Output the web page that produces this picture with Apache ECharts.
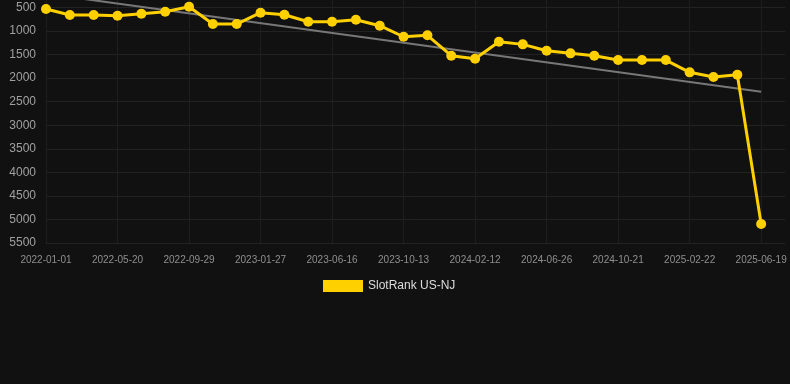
<!DOCTYPE html>
<html>
<head>
<meta charset="utf-8">
<script src="https://cdn.jsdelivr.net/npm/echarts@6/dist/echarts.min.js"></script>
<style>
html,body{margin:0;padding:0;background:#111111;overflow:hidden;width:790px;height:384px;position:relative;}
#chart{position:absolute;left:0;top:-16px;width:790px;height:400px;}
</style>
</head>
<body>
<div id="chart"></div>
<script>
var categories = ['2022-01-01','2022-02-16','2022-04-04','2022-05-20','2022-07-03','2022-08-16','2022-09-29','2022-11-08','2022-12-18','2023-01-27','2023-03-14','2023-05-01','2023-06-16','2023-07-26','2023-09-03','2023-10-13','2023-11-23','2024-01-02','2024-02-12','2024-03-27','2024-05-11','2024-06-26','2024-08-04','2024-09-12','2024-10-21','2024-12-01','2025-01-11','2025-02-22','2025-04-01','2025-05-10','2025-06-19',''];
var rankValues = [532,659,659,674,631,589,483,850,850,610,653,801,801,759,886,1120,1090,1523,1587,1226,1282,1417,1473,1523,1615,1615,1615,1876,1976,1927,5097];
var trendStart = 207;
var trendEnd = 2288;
var yTicks = [0,500,1000,1500,2000,2500,3000,3500,4000,4500,5000,5500];
var seriesName = 'SlotRank US-NJ';

var chart = echarts.init(document.getElementById('chart'), null, {renderer:'canvas', width: 790, height: 400});
var lastIdx = rankValues.length - 1;
chart.setOption({
  backgroundColor: '#111111',
  animation: false,
  grid: {left: 46, right: 5, top: 0, bottom: 141, containLabel: false, outerBoundsMode: 'none'},
  legend: {
    data: [seriesName],
    left: 318, top: 291,
    icon: 'rect', itemWidth: 40, itemHeight: 12, itemGap: 10,
    textStyle: {color: '#dddddd', fontSize: 12, fontFamily: 'Liberation Sans, Arial, sans-serif'}
  },
  xAxis: {
    type: 'category',
    data: categories,
    boundaryGap: false,
    axisLine: {show: true, lineStyle: {color: '#2a2a2a'}},
    axisTick: {show: true, interval: 2, length: 5, lineStyle: {color: '#2a2a2a'}},
    axisLabel: {interval: 2, color: '#8f8f8f', fontSize: 10, margin: 12, fontFamily: 'Liberation Sans, Arial, sans-serif'},
    splitLine: {show: true, interval: 2, lineStyle: {color: '#1e1e1e', width: 1}}
  },
  yAxis: {
    type: 'value',
    inverse: true,
    min: yTicks[0], max: yTicks[yTicks.length-1], interval: 500,
    axisLine: {show: false},
    axisTick: {show: false},
    axisLabel: {color: '#a0a0a0', fontSize: 12, margin: 10, fontFamily: 'Liberation Sans, Arial, sans-serif',
      formatter: function (v) { return String(v); }},
    splitLine: {show: true, lineStyle: {color: '#222222', width: 1}}
  },
  series: [
    {
      name: 'trend',
      type: 'line',
      data: [[0, trendStart], [lastIdx, trendEnd]],
      symbol: 'none',
      lineStyle: {color: '#777777', width: 2},
      silent: true,
      z: 1
    },
    {
      name: seriesName,
      type: 'line',
      data: rankValues,
      symbol: 'circle',
      symbolSize: 10,
      itemStyle: {color: '#ffd000'},
      lineStyle: {color: '#ffd000', width: 3},
      z: 3
    }
  ]
});
</script>
</body>
</html>
